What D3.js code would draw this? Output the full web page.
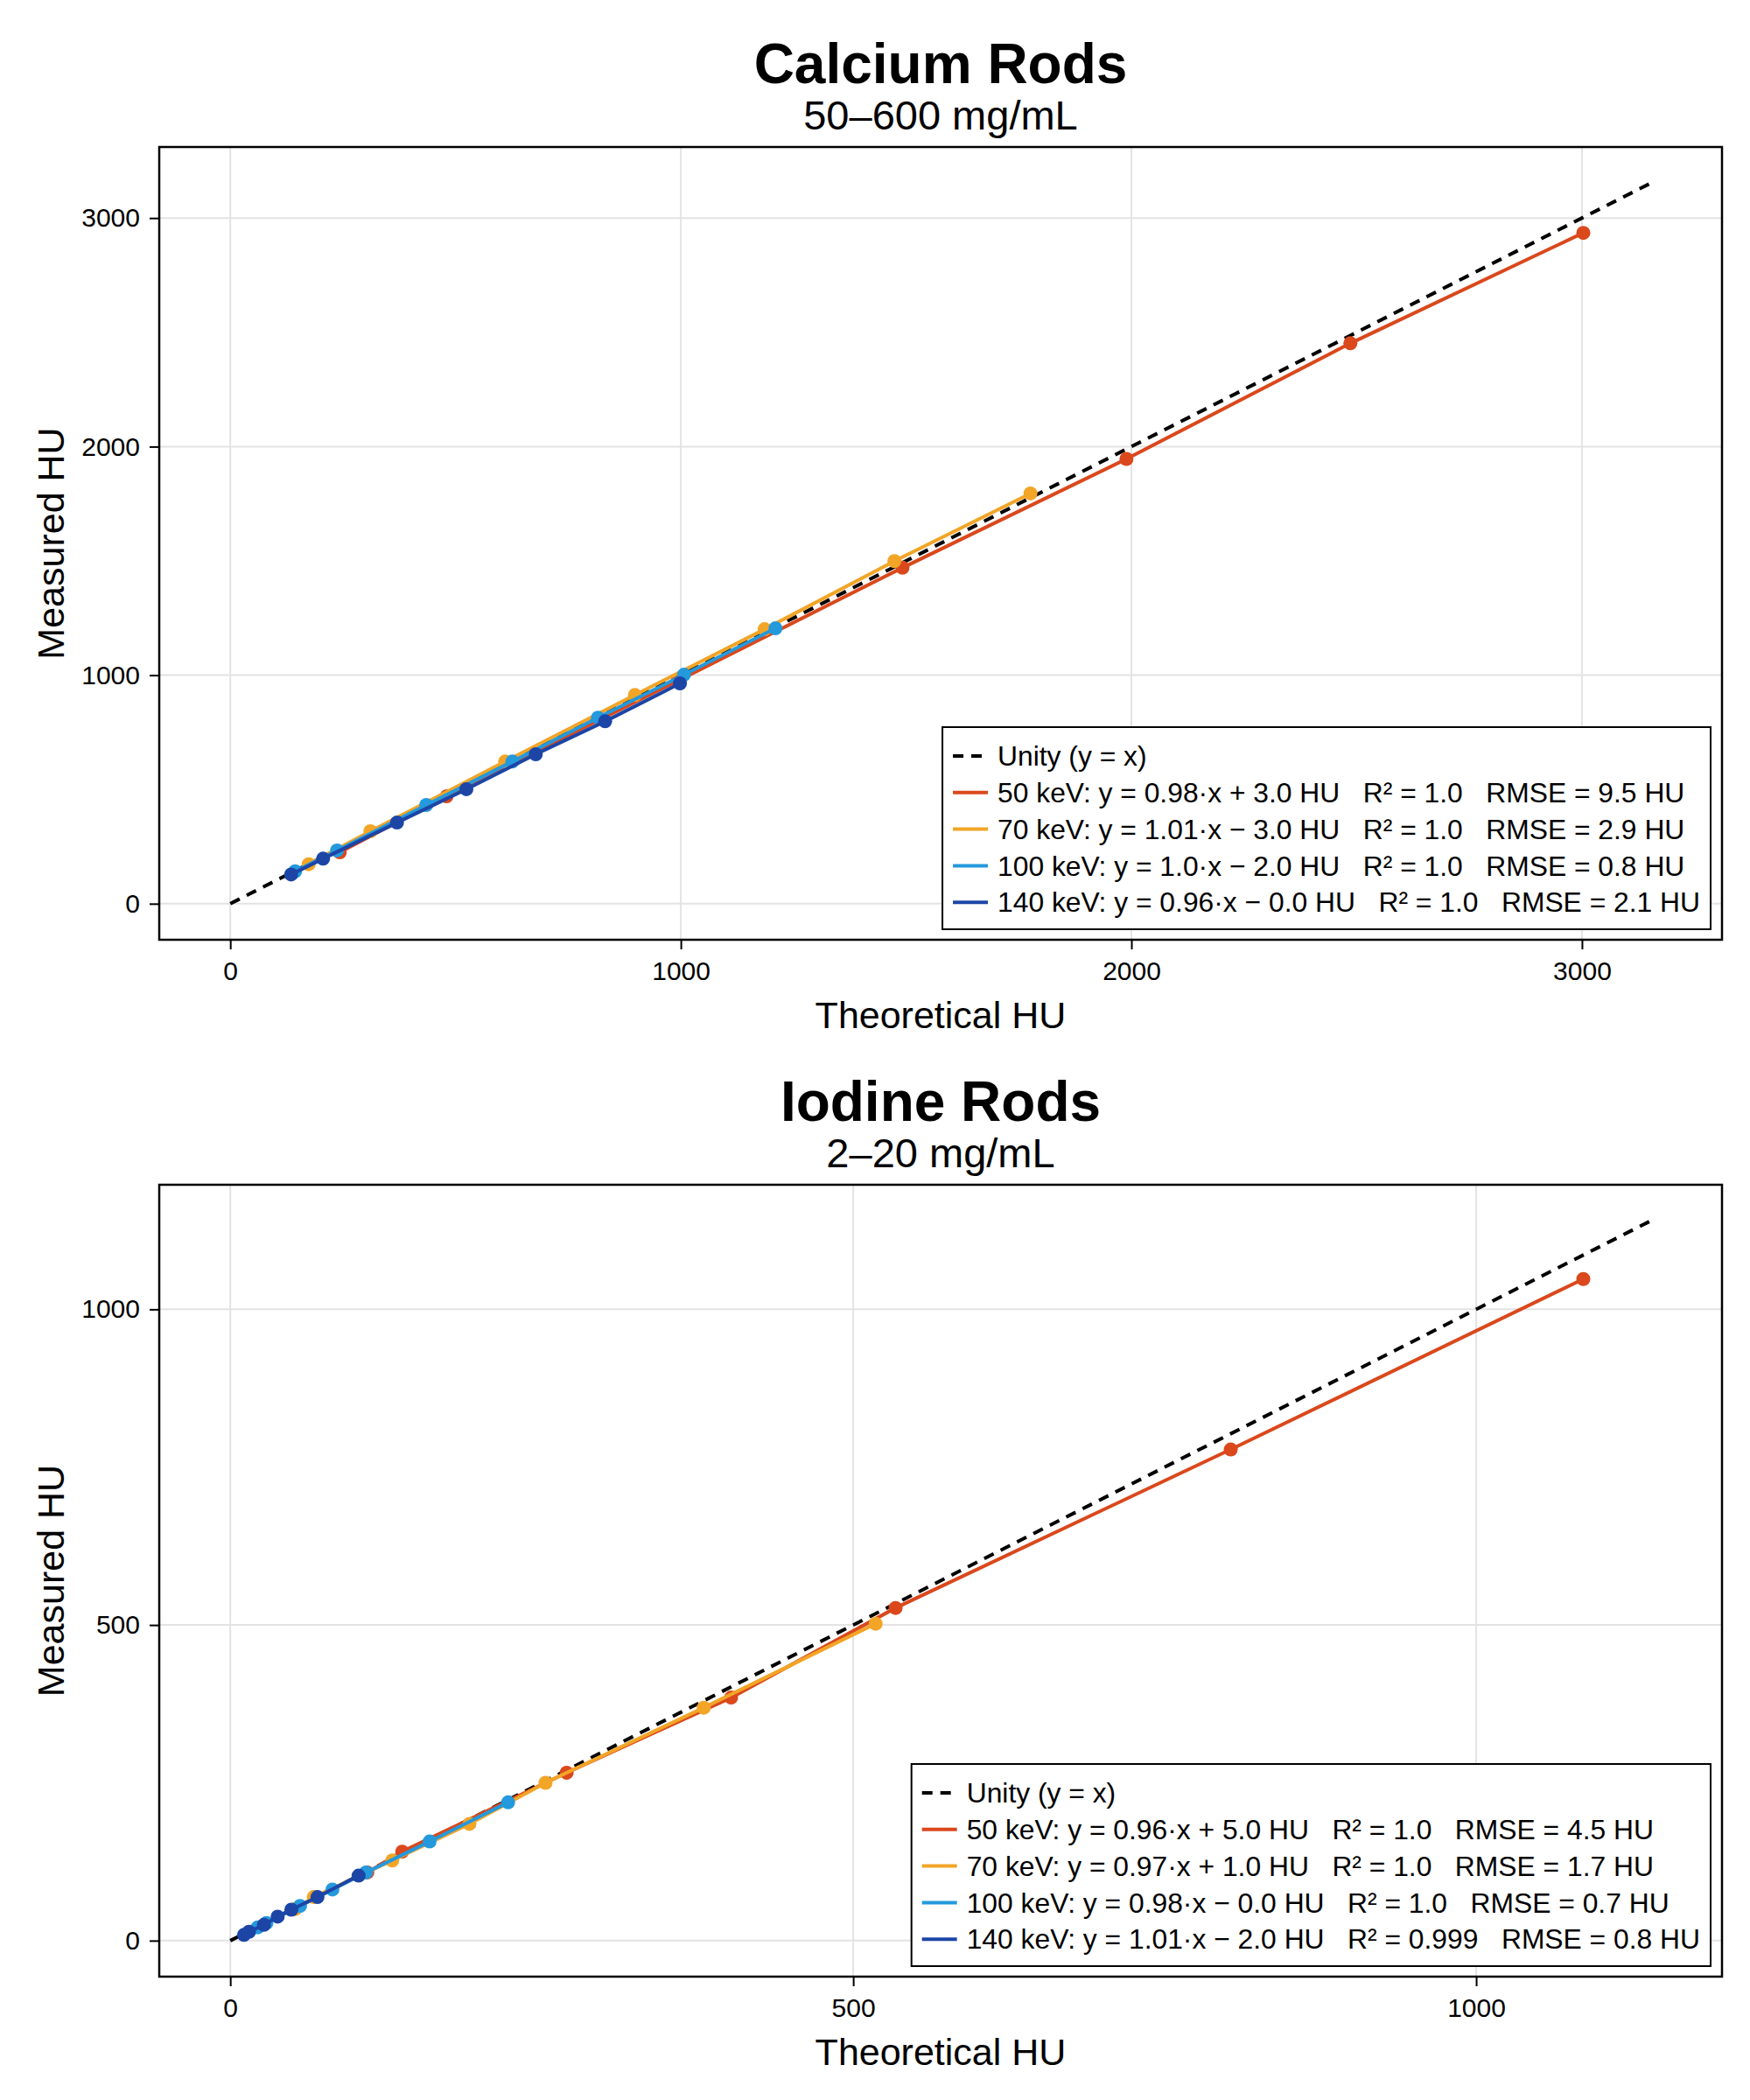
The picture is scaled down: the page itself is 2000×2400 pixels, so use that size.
<!DOCTYPE html>
<html>
<head>
<meta charset="utf-8">
<script src="https://cdn.jsdelivr.net/npm/d3@7"></script>
<style>
    body { margin: 0; background: #fff; }
    text { font-family: "Liberation Sans", Arial, Helvetica, sans-serif; fill: #000; }
</style>
</head>
<body>
<div id="chart"></div>
<script>
// values (theoretical HU vs measured HU)
var energies = ["50 keV", "70 keV", "100 keV", "140 keV"]
var colors = ["#da481c", "#f2a527", "#2499dc", "#1c45a6"]

var calTheo50 = [243, 480, 993, 1492, 1989, 2486, 3003]
var calMeas50 = [225, 470, 975, 1470, 1946, 2452, 2935]
var calTheo70 = [174, 311, 610, 898, 1186, 1474, 1776]
var calMeas70 = [173, 317, 622, 913, 1201, 1499, 1795]
var calTheo100 = [144, 237, 435, 626, 816, 1007, 1210]
var calMeas100 = [142, 233, 432, 622, 814, 1002, 1205]
var calTheo140 = [135, 206, 370, 524, 678, 832, 998]
var calMeas140 = [128, 197, 355, 501, 654, 798, 964]
var calFits = [
    "y = 0.98·x + 3.0 HU   R² = 1.0   RMSE = 9.5 HU",
    "y = 1.01·x − 3.0 HU   R² = 1.0   RMSE = 2.9 HU",
    "y = 1.0·x − 2.0 HU   R² = 1.0   RMSE = 0.8 HU",
    "y = 0.96·x − 0.0 HU   R² = 1.0   RMSE = 2.1 HU"
]
var calTicks = [0, 1000, 2000, 3000]

var iodTheo50 = [110, 138, 270, 402, 534, 803, 1086]
var iodMeas50 = [108, 141, 266, 385, 527, 778, 1048]
var iodTheo70 = [52, 67, 130, 192, 253, 380, 518]
var iodMeas70 = [50, 69, 127, 185, 250, 369, 502]
var iodTheo100 = [22, 29, 56, 82, 109, 160, 223]
var iodMeas100 = [21, 28, 55, 81, 108, 157, 219]
var iodTheo140 = [11, 15, 27, 38, 49, 70, 103]
var iodMeas140 = [9, 14, 25, 38, 49, 69, 103]
var iodFits = [
    "y = 0.96·x + 5.0 HU   R² = 1.0   RMSE = 4.5 HU",
    "y = 0.97·x + 1.0 HU   R² = 1.0   RMSE = 1.7 HU",
    "y = 0.98·x − 0.0 HU   R² = 1.0   RMSE = 0.7 HU",
    "y = 1.01·x − 2.0 HU   R² = 0.999   RMSE = 0.8 HU"
]
var iodTicks = [0, 500, 1000]

var width = 2000, height = 2400
var left = 182, right = 1968

var svg = d3.select("#chart").append("svg")
    .attr("width", width)
    .attr("height", height)

svg.append("rect").attr("width", width).attr("height", height).attr("fill", "#fff")

function zip(xs, ys) {
    return xs.map(function (v, i) { return [v, ys[i]] })
}

drawPanel({
    top: 168, bottom: 1074,
    title: "Calcium Rods", subtitle: "50–600 mg/mL",
    series: [zip(calTheo50, calMeas50), zip(calTheo70, calMeas70), zip(calTheo100, calMeas100), zip(calTheo140, calMeas140)],
    fits: calFits, ticks: calTicks
})

drawPanel({
    top: 1354, bottom: 2259,
    title: "Iodine Rods", subtitle: "2–20 mg/mL",
    series: [zip(iodTheo50, iodMeas50), zip(iodTheo70, iodMeas70), zip(iodTheo100, iodMeas100), zip(iodTheo140, iodMeas140)],
    fits: iodFits, ticks: iodTicks
})

function drawPanel(p) {
    var g = svg.append("g")

    // unity line runs to 5% past the largest value, axes pad another 5%
    var maxVal = d3.max(p.series, function (s) { return d3.max(s, function (d) { return Math.max(d[0], d[1]) }) })
    var L = maxVal * 1.05

    var x = d3.scaleLinear().domain([-0.05 * L, 1.05 * L]).range([left, right])
    var y = d3.scaleLinear().domain([-0.05 * L, 1.05 * L]).range([p.bottom, p.top])

    // grid
    g.selectAll("line.vgrid").data(p.ticks).enter().append("line")
        .attr("x1", function (d) { return x(d) }).attr("x2", function (d) { return x(d) })
        .attr("y1", p.top).attr("y2", p.bottom)
        .attr("stroke", "#e3e3e3").attr("stroke-width", 2)
    g.selectAll("line.hgrid").data(p.ticks).enter().append("line")
        .attr("y1", function (d) { return y(d) }).attr("y2", function (d) { return y(d) })
        .attr("x1", left).attr("x2", right)
        .attr("stroke", "#e3e3e3").attr("stroke-width", 2)

    // axes
    var xAxis = g.append("g")
        .attr("transform", "translate(0," + p.bottom + ")")
        .call(d3.axisBottom(x).tickValues(p.ticks).tickSize(11).tickPadding(14).tickFormat(d3.format("d")))
    var yAxis = g.append("g")
        .attr("transform", "translate(" + left + ",0)")
        .call(d3.axisLeft(y).tickValues(p.ticks).tickSize(11).tickPadding(11).tickFormat(d3.format("d")))
    ;[xAxis, yAxis].forEach(function (a) {
        a.select(".domain").remove()
        a.selectAll("line").attr("stroke", "#000").attr("stroke-width", 2)
        a.selectAll("text").attr("font-size", 30).attr("font-family", null)
    })

    var line = d3.line().x(function (d) { return x(d[0]) }).y(function (d) { return y(d[1]) })

    g.append("path")
        .attr("d", line([[0, 0], [L, L]]))
        .attr("fill", "none").attr("stroke", "#000")
        .attr("stroke-width", 4).attr("stroke-dasharray", "12,9")

    p.series.forEach(function (s, i) {
        g.append("path")
            .attr("d", line(s))
            .attr("fill", "none").attr("stroke", colors[i]).attr("stroke-width", 4)
        g.selectAll("circle.s" + i).data(s).enter().append("circle")
            .attr("class", "s" + i)
            .attr("cx", function (d) { return x(d[0]) })
            .attr("cy", function (d) { return y(d[1]) })
            .attr("r", 8)
            .attr("fill", colors[i])
    })

    // frame
    g.append("rect")
        .attr("x", left).attr("y", p.top)
        .attr("width", right - left).attr("height", p.bottom - p.top)
        .attr("fill", "none").attr("stroke", "#000").attr("stroke-width", 2.5)

    // titles and labels
    var cx = (left + right) / 2
    g.append("text").attr("x", cx).attr("y", p.top - 73)
        .attr("text-anchor", "middle").attr("font-size", 64).attr("font-weight", "bold")
        .text(p.title)
    g.append("text").attr("x", cx).attr("y", p.top - 20)
        .attr("text-anchor", "middle").attr("font-size", 47)
        .text(p.subtitle)
    g.append("text").attr("x", cx).attr("y", p.bottom + 101)
        .attr("text-anchor", "middle").attr("font-size", 43)
        .text("Theoretical HU")
    g.append("text")
        .attr("transform", "translate(73," + ((p.top + p.bottom) / 2) + ") rotate(-90)")
        .attr("text-anchor", "middle").attr("font-size", 43)
        .text("Measured HU")

    // legend, anchored to the bottom right corner of the axis
    var labels = ["Unity (y = x)"].concat(p.fits.map(function (f, i) { return energies[i] + ": " + f }))
    var rowH = 41.8, pad = 12
    var lg = g.append("g")
    var box = lg.append("rect").attr("fill", "#fff").attr("stroke", "#000").attr("stroke-width", 2)
    var texts = lg.selectAll("text").data(labels).enter().append("text")
        .attr("font-size", 31.8)
        .style("white-space", "pre")
        .attr("dy", "0.35em")
        .text(function (d) { return d })
    var maxW = 0
    texts.each(function () { maxW = Math.max(maxW, this.getComputedTextLength()) })

    var boxW = pad + 40 + 11 + maxW + pad
    var boxH = 231
    var bx = right - 13 - boxW, by = p.bottom - 12 - boxH
    box.attr("x", bx).attr("y", by).attr("width", boxW).attr("height", boxH)
    texts.attr("x", bx + pad + 51).attr("y", function (d, i) { return by + 33 + rowH * i })
    lg.selectAll("line").data(labels).enter().append("line")
        .attr("x1", bx + pad).attr("x2", bx + pad + 40)
        .attr("y1", function (d, i) { return by + 33 + rowH * i })
        .attr("y2", function (d, i) { return by + 33 + rowH * i })
        .attr("stroke", function (d, i) { return i === 0 ? "#000" : colors[i - 1] })
        .attr("stroke-width", 4)
        .attr("stroke-dasharray", function (d, i) { return i === 0 ? "12,9" : null })
}
</script>
</body>
</html>
